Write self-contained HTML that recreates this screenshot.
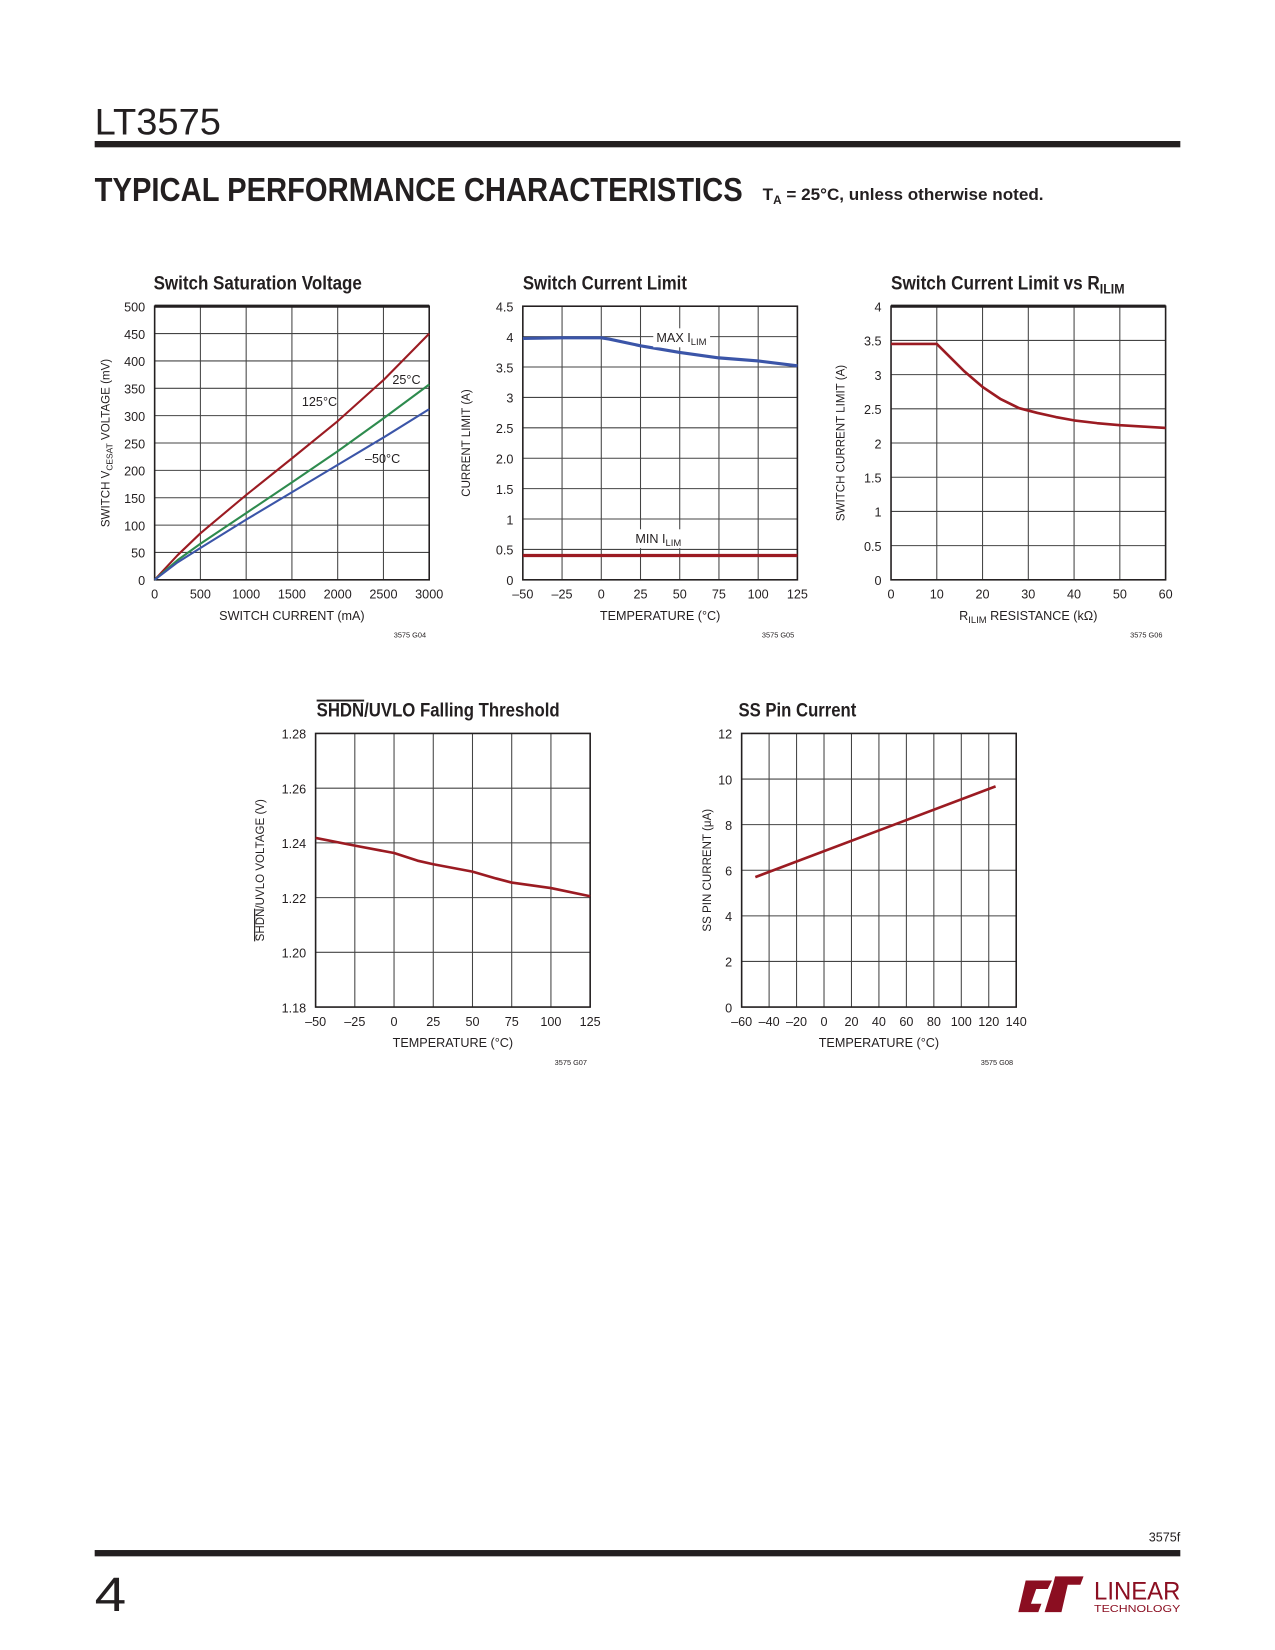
<!DOCTYPE html>
<html><head><meta charset="utf-8"><style>
html,body{margin:0;padding:0;background:#fff;}
svg{display:block;}
text{font-family:"Liberation Sans Narrow","Liberation Sans",sans-serif;fill:#231f20;}
</style></head><body>
<svg id="s" width="1275" height="1650" viewBox="0 0 1212 1568" preserveAspectRatio="none" xmlns="http://www.w3.org/2000/svg">
<text x="90" y="128" font-size="35" textLength="120" lengthAdjust="spacingAndGlyphs">LT3575</text>
<rect x="90" y="134" width="1032" height="6" fill="#231f20"/>
<text x="90" y="191" font-size="32" font-weight="bold" textLength="616" lengthAdjust="spacingAndGlyphs" style="font-family:'Liberation Sans',sans-serif">TYPICAL PERFORMANCE CHARACTERISTICS</text>
<text x="725" y="190" font-size="16" font-weight="bold" textLength="267" lengthAdjust="spacingAndGlyphs">T<tspan font-size="11" dy="4">A</tspan><tspan dy="-4"> = 25°C, unless otherwise noted.</tspan></text>
<text x="1122" y="1465" font-size="12" text-anchor="end" textLength="30" lengthAdjust="spacingAndGlyphs">3575f</text>
<rect x="90" y="1473" width="1032" height="6" fill="#231f20"/>
<text x="90" y="1531" font-size="46" textLength="30" lengthAdjust="spacingAndGlyphs">4</text>
<g fill="#8b0e21">
<polygon points="968,1532 975,1502 1000,1502 996,1510 985,1510 980,1524 990,1524 987,1532"/>
<polygon points="993,1532 1001,1506 1003,1498 1030,1498 1027,1506 1015,1506 1009,1532"/>
</g>
<text x="1040" y="1520" font-size="24" style="fill:#8b0e21" textLength="82" lengthAdjust="spacingAndGlyphs">LINEAR</text>
<text x="1040" y="1532" font-size="10" style="fill:#8b0e21" textLength="82" lengthAdjust="spacingAndGlyphs">TECHNOLOGY</text>
<g id="charts"></g>
</svg>
<script>
var NS="http://www.w3.org/2000/svg",g=document.getElementById("charts");
function el(t,a,txt){var e=document.createElementNS(NS,t);for(var k in a)e.setAttribute(k,a[k]);if(txt!=null)e.innerHTML=txt;g.appendChild(e);return e;}
function chart(c){
 var x0=c.x,y0=c.y,w=261,h=260,x1=x0+w,y1=y0+h;
 el("text",{x:c.tx,y:y0-16,"font-size":18,"font-weight":"bold",textLength:c.tw,lengthAdjust:"spacingAndGlyphs"},c.title);
 for(var i=0;i<=c.nx;i++){var X=x0+w*i/c.nx;el("line",{x1:X,y1:y0,x2:X,y2:y1,stroke:"#444","stroke-width":1});
  el("text",{x:X,y:y1+18,"font-size":12,"text-anchor":"middle"},c.xl[i]);}
 for(var j=0;j<=c.ny;j++){var Y=y1-h*j/c.ny;el("line",{x1:x0,y1:Y,x2:x1,y2:Y,stroke:"#444","stroke-width":1});
  el("text",{x:x0-9,y:Y+5,"font-size":12,"text-anchor":"end"},c.yl[j]);}
 el("rect",{x:x0,y:y0,width:w,height:h,fill:"none",stroke:"#231f20","stroke-width":1.5});
 if(c.thick)el("line",{x1:x0,y1:y0,x2:x1,y2:y0,stroke:"#231f20","stroke-width":3});
 el("text",{x:x0+w/2,y:y1+38,"font-size":12,"text-anchor":"middle"},c.xt);
 el("text",{transform:"translate("+c.yx+","+(y0+h/2)+") rotate(-90)","font-size":11,"text-anchor":"middle"},c.yt);
 el("text",{x:x1-3,y:y1+55,"font-size":7,"text-anchor":"end"},c.code);
 c.series.forEach(function(s){var p=s.pts.map(function(q){return (x0+(q[0]-c.xr[0])/(c.xr[1]-c.xr[0])*w).toFixed(1)+","+(y1-(q[1]-c.yr[0])/(c.yr[1]-c.yr[0])*h).toFixed(1);}).join(" ");
  el("polyline",{points:p,fill:"none",stroke:s.c,"stroke-width":s.w||2.5,"stroke-linejoin":"round"});});
 (c.labels||[]).forEach(function(l){if(l.bg)el("rect",{x:l.x-3,y:l.y-13,width:l.bg,height:18,fill:"#fff"});el("text",{x:l.x,y:l.y,"font-size":12},l.t);});
}
var R="#9b1b22",B="#3b55a8",G="#2e8b4e";
chart({x:147,y:291,nx:6,ny:10,tx:146,tw:198,thick:1,title:"Switch Saturation Voltage",xl:["0","500","1000","1500","2000","2500","3000"],yl:["0","50","100","150","200","250","300","350","400","450","500"],xr:[0,3000],yr:[0,500],xt:"SWITCH CURRENT (mA)",yx:104,yt:"SWITCH V<tspan font-size='8' dy='3'>CESAT</tspan><tspan dy='-3'> VOLTAGE (mV)</tspan>",code:"3575 G04",
 series:[{c:R,w:2,pts:[[0,0],[250,45],[500,85],[1000,155],[1500,222],[2000,290],[2500,365],[3000,450]]},
 {c:G,w:2,pts:[[0,0],[250,36],[500,66],[1000,122],[1500,178],[2000,235],[2500,295],[3000,357]]},
 {c:B,w:2,pts:[[0,0],[250,32],[500,58],[1000,110],[1500,160],[2000,210],[2500,260],[3000,312]]}],
 labels:[{x:287,y:386,t:"125°C"},{x:373,y:365,t:"25°C"},{x:347,y:440,t:"–50°C"}]});
chart({x:497,y:291,nx:7,ny:9,tx:497,tw:156,title:"Switch Current Limit",xl:["–50","–25","0","25","50","75","100","125"],yl:["0","0.5","1","1.5","2.0","2.5","3","3.5","4","4.5"],xr:[-50,125],yr:[0,4.5],xt:"TEMPERATURE (°C)",yx:447,yt:"CURRENT LIMIT (A)",code:"3575 G05",
 series:[{c:B,w:3,pts:[[-50,3.97],[-25,3.98],[0,3.98],[5,3.96],[25,3.85],[50,3.74],[75,3.65],[100,3.6],[125,3.52]]},{c:R,w:3,pts:[[-50,0.4],[125,0.4]]}],
 labels:[{x:624,y:325,t:"MAX I<tspan font-size='9' dy='3'>LIM</tspan>",bg:54},{x:604,y:516,t:"MIN I<tspan font-size='9' dy='3'>LIM</tspan>",bg:50}]});
chart({x:847,y:291,nx:6,ny:8,tx:847,tw:222,thick:1,title:"Switch Current Limit vs R<tspan font-size='13' dy='4'>ILIM</tspan>",xl:["0","10","20","30","40","50","60"],yl:["0","0.5","1","1.5","2","2.5","3","3.5","4"],xr:[0,60],yr:[0,4],xt:"R<tspan font-size='9' dy='3'>ILIM</tspan><tspan dy='-3'> RESISTANCE (kΩ)</tspan>",yx:803,yt:"SWITCH CURRENT LIMIT (A)",code:"3575 G06",
 series:[{c:R,w:2.5,pts:[[0,3.45],[10,3.45],[13,3.25],[16,3.05],[20,2.82],[24,2.64],[28,2.51],[32,2.44],[36,2.38],[40,2.33],[45,2.29],[50,2.26],[55,2.24],[60,2.22]]}]});
chart({x:300,y:697,nx:7,ny:5,tx:301,tw:231,title:"<tspan text-decoration='overline'>SHDN</tspan>/UVLO Falling Threshold",xl:["–50","–25","0","25","50","75","100","125"],yl:["1.18","1.20","1.22","1.24","1.26","1.28"],xr:[-50,125],yr:[1.18,1.28],xt:"TEMPERATURE (°C)",yx:251,yt:"<tspan text-decoration='overline'>SHDN</tspan>/UVLO VOLTAGE (V)",code:"3575 G07",
 series:[{c:R,w:2.5,pts:[[-50,1.2418],[-25,1.239],[0,1.2363],[15,1.2335],[25,1.2322],[50,1.2295],[65,1.227],[75,1.2255],[100,1.2235],[125,1.2205]]}]});
chart({x:705,y:697,nx:10,ny:6,tx:702,tw:112,title:"SS Pin Current",xl:["–60","–40","–20","0","20","40","60","80","100","120","140"],yl:["0","2","4","6","8","10","12"],xr:[-60,140],yr:[0,12],xt:"TEMPERATURE (°C)",yx:676,yt:"SS PIN CURRENT (μA)",code:"3575 G08",
 series:[{c:R,w:2.5,pts:[[-50,5.7],[125,9.68]]}]});
</script>
</body></html>
